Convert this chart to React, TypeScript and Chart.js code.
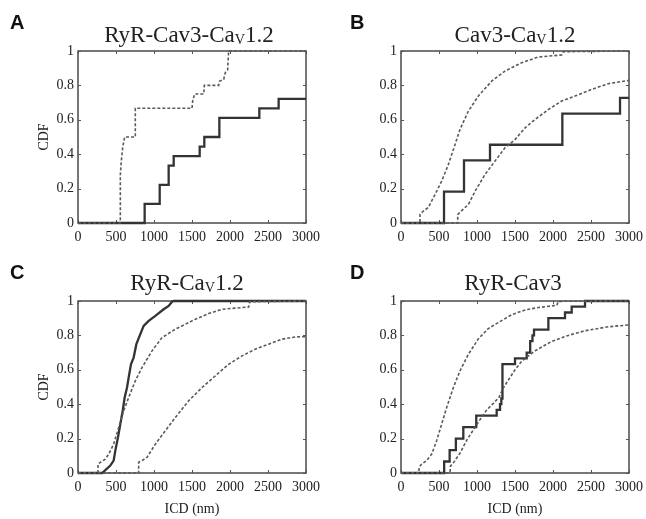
import React, { useEffect, useRef } from "react";
import { Chart, registerables } from "chart.js";

Chart.register(...registerables);

// ---------- data ----------
const xTicksMax = 3000;

// Panel A: RyR-Cav3-CaV1.2
const aSolidX = [0, 877, 1075, 1193, 1259, 1601, 1662, 1860, 2386, 2640, 3000];
const aSolidY = [0, 0.111, 0.222, 0.333, 0.389, 0.444, 0.5, 0.611, 0.667, 0.722, 0.722];
const aDashX = [0, 557, 557, 570, 588, 614, 754, 754, 1500, 1509, 1535, 1654, 1662, 1851, 1864, 1917, 1939, 1969, 1982, 3000];
const aDashY = [0, 0, 0.28, 0.36, 0.44, 0.5, 0.5, 0.667, 0.667, 0.71, 0.75, 0.75, 0.8, 0.8, 0.825, 0.835, 0.875, 0.89, 1, 1];

// Panel B: Cav3-CaV1.2
const bSolidX = [0, 566, 829, 1171, 2123, 2882, 3000];
const bSolidY = [0, 0.182, 0.364, 0.455, 0.636, 0.727, 0.727];
const bDash1X = [0, 250, 250, 281, 360, 447, 535, 623, 711, 776, 886, 1018, 1193, 1368, 1588, 1807, 2114, 2136, 3000];
const bDash1Y = [0, 0, 0.049, 0.064, 0.091, 0.165, 0.243, 0.34, 0.456, 0.544, 0.65, 0.738, 0.825, 0.883, 0.932, 0.965, 0.977, 0.996, 1];
const bDash2X = [0, 746, 746, 798, 886, 974, 1105, 1237, 1368, 1500, 1632, 1763, 1939, 2114, 2289, 2509, 2728, 3000];
const bDash2Y = [0, 0, 0.049, 0.072, 0.107, 0.184, 0.282, 0.36, 0.437, 0.485, 0.553, 0.602, 0.66, 0.709, 0.738, 0.777, 0.81, 0.829];

// Panel C: RyR-CaV1.2
const cSolidX = [0, 316, 360, 425, 469, 491, 526, 557, 588, 614, 645, 667, 697, 732, 768, 820, 864, 930, 1018, 1127, 1193, 1237, 1259, 3000];
const cSolidY = [0, 0, 0.017, 0.043, 0.072, 0.13, 0.207, 0.284, 0.362, 0.439, 0.497, 0.555, 0.632, 0.671, 0.749, 0.807, 0.855, 0.884, 0.913, 0.952, 0.971, 0.996, 1, 1];
const cDash1X = [0, 263, 263, 294, 360, 404, 469, 535, 601, 667, 754, 842, 974, 1105, 1281, 1368, 1544, 1719, 1895, 2026, 2246, 2259, 3000];
const cDash1Y = [0, 0, 0.052, 0.062, 0.081, 0.11, 0.168, 0.265, 0.362, 0.439, 0.536, 0.613, 0.71, 0.787, 0.836, 0.855, 0.894, 0.927, 0.952, 0.957, 0.965, 0.996, 1];
const cDash2X = [0, 798, 798, 842, 908, 1018, 1149, 1281, 1456, 1632, 1807, 1982, 2158, 2333, 2509, 2684, 2860, 3000];
const cDash2Y = [0, 0, 0.062, 0.072, 0.091, 0.168, 0.246, 0.323, 0.42, 0.497, 0.565, 0.632, 0.681, 0.72, 0.749, 0.778, 0.791, 0.793];

// Panel D: RyR-Cav3
const dSolidX = [0, 568, 640, 722, 820, 990, 1259, 1303, 1320, 1335, 1500, 1654, 1700, 1730, 1750, 1939, 2158, 2246, 2421, 3000];
const dSolidY = [0, 0.067, 0.133, 0.2, 0.267, 0.333, 0.367, 0.4, 0.433, 0.633, 0.667, 0.7, 0.767, 0.8, 0.833, 0.9, 0.933, 0.967, 1, 1];
const dDash1X = [0, 237, 237, 272, 338, 404, 469, 535, 601, 689, 776, 886, 1018, 1149, 1281, 1456, 1632, 1807, 2050, 2070, 3000];
const dDash1Y = [0, 0, 0.033, 0.052, 0.072, 0.11, 0.188, 0.284, 0.381, 0.497, 0.594, 0.69, 0.78, 0.84, 0.875, 0.92, 0.948, 0.962, 0.975, 0.998, 1];
const dDash2X = [0, 645, 650, 684, 776, 864, 951, 1039, 1127, 1215, 1290, 1340, 1412, 1500, 1588, 1763, 1982, 2202, 2421, 2728, 3000];
const dDash2Y = [0, 0, 0.04, 0.056, 0.115, 0.19, 0.25, 0.31, 0.366, 0.405, 0.44, 0.49, 0.54, 0.6, 0.65, 0.71, 0.765, 0.8, 0.827, 0.85, 0.861];

const panelLetters = ["A", "B", "C", "D"];
const panelTitles = [
  ["RyR-Cav3-Ca", "V", "1.2"],
  ["Cav3-Ca", "V", "1.2"],
  ["RyR-Ca", "V", "1.2"],
  ["RyR-Cav3", "", ""],
];
const yAxisTitle = "CDF";
const xAxisTitle = "ICD (nm)";

// ---------- rendering ----------
const SERIF = "'Liberation Serif', 'Times New Roman', serif";
const SANS = "'Liberation Sans', Arial, sans-serif";

type Series = { xs: number[]; ys: number[]; solid: boolean; stepped: boolean };

const pts = (xs: number[], ys: number[]) => xs.map((x, i) => ({ x, y: ys[i] }));

const framePlugin = {
  id: "frame",
  beforeDatasetsDraw(chart: any) {
    const { ctx, chartArea, scales } = chart;
    const { left, right, top, bottom } = chartArea;
    ctx.save();
    ctx.strokeStyle = "#4a4a4a";
    ctx.lineWidth = 1.5;
    ctx.strokeRect(left, top, right - left, bottom - top);
    ctx.lineWidth = 1;
    ctx.strokeStyle = "#555";
    const L = 3;
    scales.x.ticks.forEach((t: any) => {
      const px = Math.round(scales.x.getPixelForValue(t.value)) + 0.5;
      ctx.beginPath();
      ctx.moveTo(px, bottom);
      ctx.lineTo(px, bottom - L);
      ctx.moveTo(px, top);
      ctx.lineTo(px, top + L);
      ctx.stroke();
    });
    scales.y.ticks.forEach((t: any) => {
      const py = Math.round(scales.y.getPixelForValue(t.value)) + 0.5;
      ctx.beginPath();
      ctx.moveTo(left, py);
      ctx.lineTo(left + L, py);
      ctx.moveTo(right, py);
      ctx.lineTo(right - L, py);
      ctx.stroke();
    });
    ctx.restore();
  },
};

type PanelProps = {
  left: number;
  top: number;
  width: number;
  height: number;
  padTop: number;
  xAxisH: number;
  showYTitle: boolean;
  showXTitle: boolean;
  series: Series[];
};

function Panel(p: PanelProps) {
  const ref = useRef<HTMLCanvasElement | null>(null);
  useEffect(() => {
    if (!ref.current) return;
    const chart = new Chart(ref.current, {
      type: "scatter",
      data: {
        datasets: p.series.map((s) => ({
          data: pts(s.xs, s.ys),
          showLine: true,
          stepped: s.stepped ? true : false,
          borderColor: s.solid ? "#333" : "#5a5a5a",
          borderWidth: s.solid ? 2.3 : 1.6,
          borderDash: s.solid ? [] : [3, 2],
          pointRadius: 0,
          pointHoverRadius: 0,
          tension: 0,
          clip: 4,
          fill: false,
        })),
      },
      options: {
        responsive: false,
        animation: false,
        events: [],
        layout: { padding: { left: 0, right: 17, top: p.padTop, bottom: 0 } },
        plugins: {
          legend: { display: false },
          tooltip: { enabled: false },
          title: { display: false },
        },
        scales: {
          x: {
            type: "linear",
            min: 0,
            max: xTicksMax,
            ticks: {
              stepSize: 500,
              padding: 6,
              color: "#222",
              maxRotation: 0,
              autoSkip: false,
              font: { family: SERIF, size: 14 },
              callback: (v: any) => String(Math.round(Number(v))),
            },
            grid: { display: false, drawTicks: false },
            border: { display: false },
            title: {
              display: p.showXTitle,
              text: xAxisTitle,
              color: "#222",
              font: { family: SERIF, size: 14 },
              padding: { top: 0, bottom: 1.6 },
            },
            afterFit: (s: any) => {
              s.height = p.xAxisH;
              s.paddingLeft = 0;
              s.paddingRight = 0;
            },
          },
          y: {
            type: "linear",
            min: 0,
            max: 1,
            ticks: {
              stepSize: 0.2,
              padding: 4,
              color: "#222",
              font: { family: SERIF, size: 14 },
              callback: (v: any) => String(Math.round(Number(v) * 10) / 10),
            },
            grid: { display: false, drawTicks: false },
            border: { display: false },
            title: {
              display: p.showYTitle,
              text: yAxisTitle,
              color: "#222",
              font: { family: SERIF, size: 14 },
              padding: { top: 35.6, bottom: 0 },
            },
            afterFit: (s: any) => {
              s.width = 78;
              s.paddingTop = 0;
              s.paddingBottom = 0;
            },
          },
        },
      } as any,
      plugins: [framePlugin],
    });
    return () => chart.destroy();
  }, []);
  return (
    <canvas
      ref={ref}
      width={p.width}
      height={p.height}
      style={{ position: "absolute", left: p.left, top: p.top, width: p.width, height: p.height, display: "block" }}
    />
  );
}

function Title({ parts, cx, top }: { parts: string[]; cx: number; top: number }) {
  return (
    <div
      style={{
        position: "absolute",
        left: cx - 150,
        top,
        width: 300,
        textAlign: "center",
        fontFamily: SERIF,
        fontSize: 23,
        lineHeight: "23px",
        color: "#222",
        whiteSpace: "nowrap",
      }}
    >
      {parts[0]}
      {parts[1] ? (
        <span style={{ fontSize: "0.62em", position: "relative", top: 2 }}>{parts[1]}</span>
      ) : null}
      {parts[2]}
    </div>
  );
}

function Letter({ text, left, top }: { text: string; left: number; top: number }) {
  return (
    <div
      style={{
        position: "absolute",
        left,
        top,
        fontFamily: SANS,
        fontWeight: "bold",
        fontSize: 20,
        lineHeight: "20px",
        color: "#111",
      }}
    >
      {text}
    </div>
  );
}

export default function App() {
  const panels: PanelProps[] = [
    {
      left: 0, top: 0, width: 323, height: 260, padTop: 51, xAxisH: 37, showYTitle: true, showXTitle: false,
      series: [
        { xs: aDashX, ys: aDashY, solid: false, stepped: false },
        { xs: aSolidX, ys: aSolidY, solid: true, stepped: true },
      ],
    },
    {
      left: 323, top: 0, width: 323, height: 260, padTop: 51, xAxisH: 37, showYTitle: false, showXTitle: false,
      series: [
        { xs: bDash1X, ys: bDash1Y, solid: false, stepped: false },
        { xs: bDash2X, ys: bDash2Y, solid: false, stepped: false },
        { xs: bSolidX, ys: bSolidY, solid: true, stepped: true },
      ],
    },
    {
      left: 0, top: 260, width: 323, height: 259, padTop: 41, xAxisH: 46, showYTitle: true, showXTitle: true,
      series: [
        { xs: cDash1X, ys: cDash1Y, solid: false, stepped: false },
        { xs: cDash2X, ys: cDash2Y, solid: false, stepped: false },
        { xs: cSolidX, ys: cSolidY, solid: true, stepped: false },
      ],
    },
    {
      left: 323, top: 260, width: 323, height: 259, padTop: 41, xAxisH: 46, showYTitle: false, showXTitle: true,
      series: [
        { xs: dDash1X, ys: dDash1Y, solid: false, stepped: false },
        { xs: dDash2X, ys: dDash2Y, solid: false, stepped: false },
        { xs: dSolidX, ys: dSolidY, solid: true, stepped: true },
      ],
    },
  ];
  const titleCx = [189, 515, 187, 513];
  const titleTop = [22.7, 22.5, 271.4, 271.4];
  const letterPos = [
    [10, 12.4],
    [350, 12.4],
    [10, 262.4],
    [350, 262.4],
  ];
  return (
    <div style={{ position: "absolute", left: 0, top: 0, width: 646, height: 519, background: "#fff", overflow: "hidden" }}>
      {panels.map((p, i) => (
        <Panel key={i} {...p} />
      ))}
      {panelTitles.map((t, i) => (
        <Title key={"t" + i} parts={t} cx={titleCx[i]} top={titleTop[i]} />
      ))}
      {panelLetters.map((l, i) => (
        <Letter key={"l" + i} text={l} left={letterPos[i][0]} top={letterPos[i][1]} />
      ))}
    </div>
  );
}
